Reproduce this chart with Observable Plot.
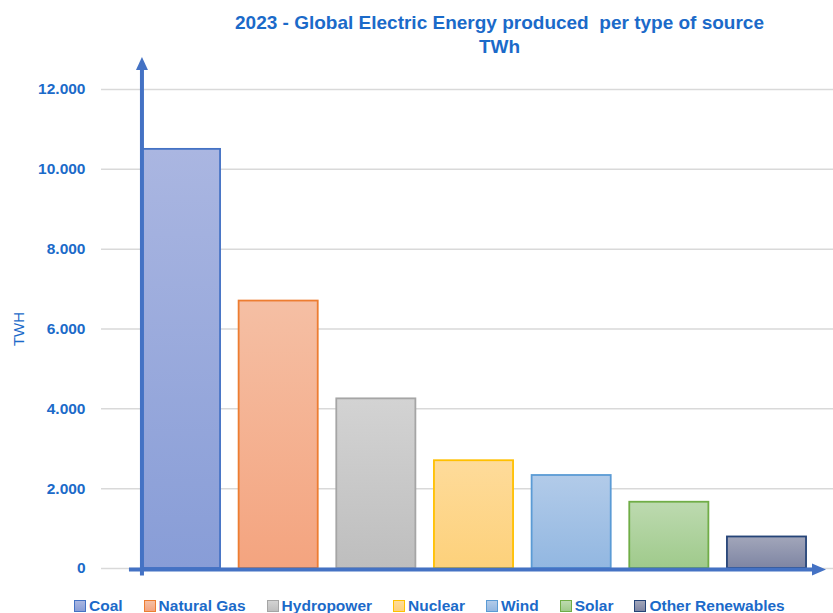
<!DOCTYPE html>
<html>
<head>
<meta charset="utf-8">
<script src="https://cdn.jsdelivr.net/npm/d3@7"></script>
<script src="https://cdn.jsdelivr.net/npm/@observablehq/plot@0.6"></script>
<style>
  body { margin: 0; background: #fff; }
  #chart { width: 833px; height: 613px; position: relative; overflow: hidden;
           font-family: "Liberation Sans", Arial, sans-serif; color: #1B6AC9; }
  .title { height: 56px; box-sizing: border-box; padding-top: 11px; padding-left: 166px;
           text-align: center; font-weight: bold; font-size: 19px; line-height: 24px; }
  .legend { display: flex; gap: 21px; padding-left: 74px; height: 23px; align-items: center;
            font-weight: bold; font-size: 15.5px; margin-top: 4px; }
  .legend span.item { display: flex; align-items: center; gap: 3px; }
  .legend span.sw { width: 10px; height: 10px; border: 1.5px solid; display: inline-block; }
  svg { display: block; }
</style>
</head>
<body>
<div id="chart"></div>
<script>
// Electricity generated worldwide in 2023, TWh per source
const sources = ["Coal", "Natural Gas", "Hydropower", "Nuclear", "Wind", "Solar", "Other Renewables"];
const values = [10500, 6700, 4250, 2700, 2330, 1660, 790];
const yTicks = [0, 2000, 4000, 6000, 8000, 10000, 12000];

// Bar palette: outline, gradient top, gradient bottom
const strokeColors = ["#4472C4", "#ED7D31", "#A5A5A5", "#FFC000", "#5B9BD5", "#70AD47", "#264478"];
const topColors    = ["#AAB6E1", "#F5BFA4", "#D3D3D3", "#FEDB9A", "#B2CBE9", "#BDDAB0", "#A2A6BA"];
const bottomColors = ["#889DD7", "#F4A47F", "#BEBEBE", "#FDD17B", "#92B7E1", "#9FCA8B", "#7E85A3"];

const blue = "#1B6AC9";
const axisBlue = "#4472C4";

const data = sources.map((s, i) => ({
  source: s, value: values[i], stroke: strokeColors[i], fill: `url(#grad-${i})`
}));

const fmt = d3.formatLocale({decimal: ",", thousands: ".", grouping: [3], currency: ["", ""]}).format(",");

const root = document.getElementById("chart");

const title = document.createElement("div");
title.className = "title";
title.innerHTML = "2023 - Global Electric Energy produced&nbsp; per type of source<br>TWh";
root.appendChild(title);

// Gradient definitions used by the bars
function gradients() {
  const defs = d3.create("svg:defs");
  sources.forEach((s, i) => {
    const g = defs.append("linearGradient").attr("id", `grad-${i}`)
      .attr("x1", 0).attr("y1", 0).attr("x2", 0).attr("y2", 1);
    g.append("stop").attr("offset", "0%").attr("stop-color", topColors[i]);
    g.append("stop").attr("offset", "100%").attr("stop-color", bottomColors[i]);
  });
  return defs.node();
}

// Arrow-headed axis lines drawn from the chart's scales
function axisArrows(index, scales, values, dims) {
  const g = d3.create("svg:g").attr("fill", axisBlue).attr("stroke", axisBlue);
  const xa = scales.x(sources[0]) + 1;
  const y0 = scales.y(0) + 1.5;
  const yTip = scales.y(12000) - 32;
  const xTip = dims.width - 7;
  const xStart = scales.x(sources[0]) - 12;
  g.append("line").attr("x1", xa).attr("x2", xa).attr("y1", y0 + 6).attr("y2", yTip + 10)
    .attr("stroke-width", 4);
  g.append("path").attr("stroke", "none")
    .attr("d", `M${xa - 6},${yTip + 13}L${xa + 6},${yTip + 13}L${xa},${yTip}Z`);
  g.append("line").attr("x1", xStart).attr("x2", xTip - 10).attr("y1", y0).attr("y2", y0)
    .attr("stroke-width", 4);
  g.append("path").attr("stroke", "none")
    .attr("d", `M${xTip - 14},${y0 - 6}L${xTip - 14},${y0 + 6}L${xTip},${y0}Z`);
  return g.node();
}

const plot = Plot.plot({
  width: 833,
  height: 534,
  marginTop: 33,
  marginBottom: 22,
  marginLeft: 101,
  marginRight: 0,
  style: {fontFamily: "'Liberation Sans', Arial, sans-serif", color: blue, background: "#fff"},
  x: {type: "band", domain: sources, range: [122.4, 824.6], padding: 0.19, round: false, axis: null},
  y: {domain: [0, 12000], axis: null},
  color: {type: "identity"},
  marks: [
    gradients,
    Plot.ruleY(yTicks, {stroke: "#D9D9D9", strokeWidth: 1.5}),
    Plot.axisY(yTicks, {tickSize: 0, tickPadding: 16, tickFormat: fmt, label: null,
      fontSize: 15.5, fontWeight: "bold", fill: blue}),
    Plot.text(["TWH"], {frameAnchor: "left", textAnchor: "middle", dx: -82, rotate: -90,
      fontSize: 15, fill: blue}),
    Plot.barY(data, {x: "source", y: "value", fill: "fill", stroke: "stroke", strokeWidth: 1.8}),
    axisArrows
  ]
});
root.appendChild(plot);

const legend = document.createElement("div");
legend.className = "legend";
sources.forEach((s, i) => {
  const item = document.createElement("span");
  item.className = "item";
  const sw = document.createElement("span");
  sw.className = "sw";
  sw.style.borderColor = strokeColors[i];
  sw.style.background = `linear-gradient(${topColors[i]}, ${bottomColors[i]})`;
  item.appendChild(sw);
  item.appendChild(document.createTextNode(s));
  legend.appendChild(item);
});
root.appendChild(legend);
</script>
</body>
</html>
